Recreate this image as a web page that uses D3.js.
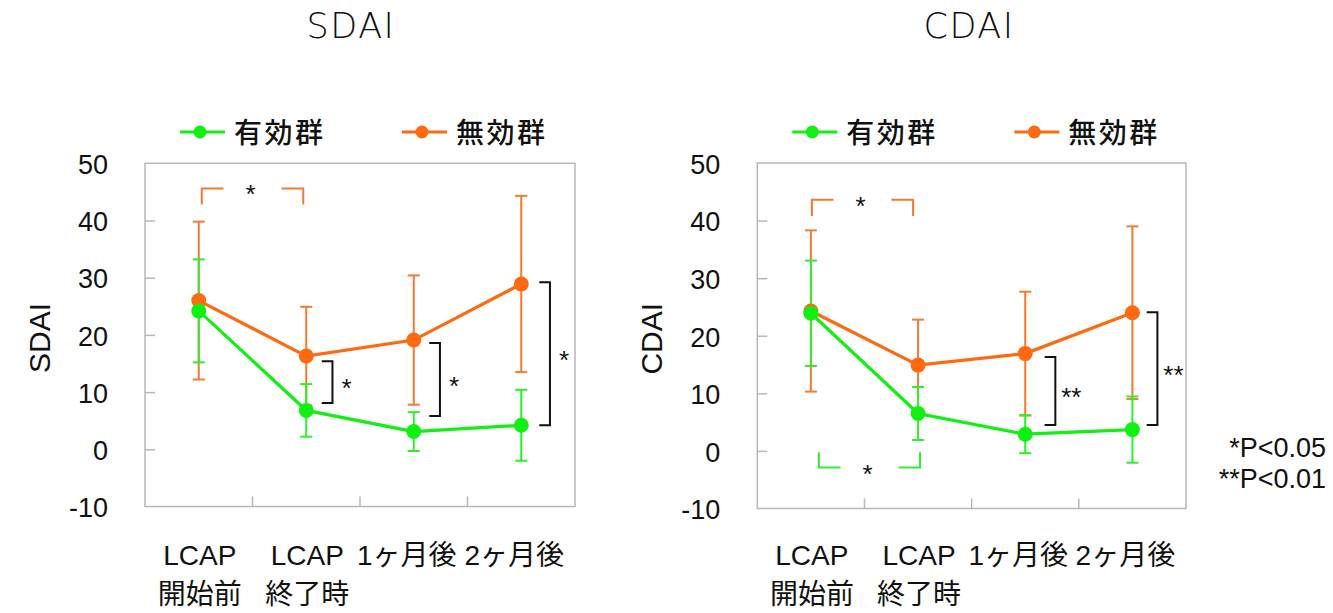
<!DOCTYPE html>
<html>
<head>
<meta charset="utf-8">
<script src="https://cdn.jsdelivr.net/npm/d3@7/dist/d3.min.js"></script>
<style>
    body { margin: 0; background: #fff; }
    svg { display: block; }
</style>
</head>
<body>
<svg id="chart" width="1333" height="613"></svg>
<script>
// data
var categories = [["LCAP", "開始前"], ["LCAP", "終了時"], ["1ヶ月後"], ["2ヶ月後"]];
var yTicks = [-10, 0, 10, 20, 30, 40, 50];
var groupNames = ["有効群", "無効群"];

var sdaiEffective = [24.2, 6.8, 3.1, 4.2];
var sdaiEffectiveSd = [9.0, 4.6, 3.4, 6.2];
var sdaiIneffective = [26.0, 16.3, 19.1, 28.9];
var sdaiIneffectiveSd = [13.8, 8.6, 11.3, 15.4];

var cdaiEffective = [23.9, 6.5, 2.9, 3.7];
var cdaiEffectiveSd = [9.15, 4.6, 3.3, 5.75];
var cdaiIneffective = [24.3, 14.9, 16.9, 24.0];
var cdaiIneffectiveSd = [14.0, 7.9, 10.75, 15.0];

// significance between groups: category index, upper and lower value of the bracket
var sdaiPairs = [{at: 1, hi: 15.4, lo: 8.1, label: "*"}, {at: 2, hi: 18.6, lo: 5.8, label: "*"}, {at: 3, hi: 29.2, lo: 4.2, label: "*"}];
var cdaiPairs = [{at: 2, hi: 16.3, lo: 4.5, label: "**"}, {at: 3, hi: 24.1, lo: 4.5, label: "**"}];

// significance within a group: from/to category, bracket level and end value
var sdaiWithin = [{group: 1, from: 0, to: 1, level: 45.6, end: 42.8, label: "*"}];
var cdaiWithin = [{group: 1, from: 0, to: 1, level: 43.6, end: 40.8, label: "*"},
                  {group: 0, from: 0, to: 1, level: -2.9, end: -0.25, label: "*"}];

var colors = ["#11f011", "#ff6a10"];
var barColors = ["#2cf02c", "#f47a30"];

var svg = d3.select("#chart");
var arial = "'Liberation Sans', Arial, 'Noto Sans CJK JP', sans-serif";
var cjk = "'Noto Sans CJK JP', sans-serif";

function drawPanel(p) {
    var x = d3.scaleBand().domain(d3.range(categories.length)).range([p.left, p.right]);
    var y = d3.scaleLinear().domain([-10, 50]).range([p.bottom, p.top]);
    var cx = function (i) { return x(i) + x.bandwidth() / 2; };
    var g = svg.append("g");

    // title
    g.append("text")
        .attr("x", p.titleX)
        .attr("y", 38)
        .attr("text-anchor", "middle")
        .attr("font-family", "'DejaVu Sans', sans-serif")
        .attr("font-weight", 200)
        .attr("font-size", 35)
        .attr("letter-spacing", 1.5)
        .attr("fill", "#111")
        .text(p.title);

    // plot frame
    g.append("rect")
        .attr("x", p.left).attr("y", p.top)
        .attr("width", p.right - p.left).attr("height", p.bottom - p.top)
        .attr("fill", "none").attr("stroke", "#b8b8b8").attr("stroke-width", 1.5);

    // inner y ticks
    var inner = g.append("g").attr("transform", "translate(" + p.left + ",0)")
        .call(d3.axisRight(y).tickValues(yTicks.slice(1, -1)).tickSize(10).tickFormat(""));
    inner.select(".domain").remove();
    inner.selectAll("line").attr("stroke", "#b8b8b8").attr("stroke-width", 1.5);

    // y labels
    var ya = g.append("g").attr("transform", "translate(" + p.left + ",0)")
        .call(d3.axisLeft(y).tickValues(yTicks).tickSize(0).tickPadding(37)
            .tickFormat(function (d) { return String(d); }));
    ya.select(".domain").remove();
    ya.selectAll("text")
        .attr("font-family", arial).attr("font-size", 27).attr("fill", "#111")
        .attr("dy", "0.38em");

    // x ticks at band edges
    g.selectAll("line.xt").data(d3.range(1, categories.length)).enter().append("line")
        .attr("x1", function (d) { return x(d); }).attr("x2", function (d) { return x(d); })
        .attr("y1", p.bottom).attr("y2", p.bottom - 10)
        .attr("stroke", "#b8b8b8").attr("stroke-width", 1.5);

    // x labels
    categories.forEach(function (lines, i) {
        var t = g.append("text")
            .attr("text-anchor", "middle")
            .attr("font-family", arial).attr("font-size", 28).attr("fill", "#111");
        lines.forEach(function (s, k) {
            t.append("tspan")
                .attr("x", cx(i) + (lines.length === 1 ? -7 : 1))
                .attr("y", 565 + k * 39)
                .text(s);
        });
    });

    // axis title
    g.append("text")
        .attr("transform", "translate(" + (p.left - 106) + "," + ((p.top + p.bottom) / 2 + 3) + ") rotate(-90)")
        .attr("text-anchor", "middle").attr("dy", "0.36em")
        .attr("font-family", arial).attr("font-size", 30).attr("fill", "#111")
        .text(p.title);

    // legend
    var lx = [p.left + 35, p.left + 257];
    groupNames.forEach(function (name, k) {
        var lg = g.append("g").attr("transform", "translate(" + lx[k] + ",132)");
        lg.append("line").attr("x1", 0).attr("x2", 45)
            .attr("stroke", colors[k]).attr("stroke-width", 3);
        lg.append("circle").attr("cx", 20).attr("r", 6.5).attr("fill", colors[k]);
        lg.append("text").attr("x", 54).attr("y", 11)
            .attr("font-family", cjk).attr("font-size", 28).attr("font-weight", 500)
            .attr("letter-spacing", 2.5)
            .attr("fill", "#111").text(name);
    });

    var series = [
        {k: 1, values: p.ineffective, sd: p.ineffectiveSd},
        {k: 0, values: p.effective, sd: p.effectiveSd}
    ];

    // error bars
    series.forEach(function (s) {
        var eb = g.append("g").attr("stroke", barColors[s.k]).attr("stroke-width", 2);
        s.values.forEach(function (v, i) {
            var hi = y(v + s.sd[i]), lo = y(v - s.sd[i]);
            eb.append("line").attr("x1", cx(i)).attr("x2", cx(i)).attr("y1", hi).attr("y2", lo);
            eb.append("line").attr("x1", cx(i) - 6).attr("x2", cx(i) + 6).attr("y1", hi).attr("y2", hi);
            eb.append("line").attr("x1", cx(i) - 6).attr("x2", cx(i) + 6).attr("y1", lo).attr("y2", lo);
        });
    });

    // lines and markers
    var line = d3.line()
        .x(function (d, i) { return cx(i); })
        .y(function (d) { return y(d); });
    series.forEach(function (s) {
        g.append("path").attr("d", line(s.values))
            .attr("fill", "none").attr("stroke", colors[s.k]).attr("stroke-width", 3.2);
        g.selectAll(null).data(s.values).enter().append("circle")
            .attr("cx", function (d, i) { return cx(i); })
            .attr("cy", function (d) { return y(d); })
            .attr("r", 7.5).attr("fill", colors[s.k]);
    });

    // between-group brackets
    p.pairs.forEach(function (b, j) {
        var x0 = cx(b.at) + p.pairOffsets[j], x1 = x0 + 10.7;
        g.append("path")
            .attr("d", "M" + x0 + "," + y(b.hi) + "H" + x1 + "V" + y(b.lo) + "H" + x0)
            .attr("fill", "none").attr("stroke", "#111").attr("stroke-width", 2);
        g.append("text")
            .attr("x", x1 + (b.label.length > 1 ? 16 : 14))
            .attr("y", y((b.hi + b.lo) / 2) + 15)
            .attr("text-anchor", "middle")
            .attr("font-family", arial).attr("font-size", 26)
            .attr("fill", "#111").text(b.label);
    });

    // within-group dashed brackets
    p.within.forEach(function (b, j) {
        var x0 = cx(b.from) + p.withinInsets[j][0], x1 = cx(b.to) + p.withinInsets[j][1];
        var mid = (x0 + x1) / 2, ly = y(b.level), ey = y(b.end);
        g.append("path")
            .attr("d", "M" + x0 + "," + ey + "V" + ly + "H" + (mid - 29) +
                "M" + (mid + 29) + "," + ly + "H" + x1 + "V" + ey)
            .attr("fill", "none").attr("stroke", barColors[b.group]).attr("stroke-width", 2);
        g.append("text")
            .attr("x", mid - 2).attr("y", ly + 15)
            .attr("text-anchor", "middle")
            .attr("font-family", arial).attr("font-size", 26)
            .attr("fill", "#111").text(b.label);
    });
}

drawPanel({
    title: "SDAI", titleX: 351, left: 145, right: 575, top: 163.3, bottom: 506.5,
    effective: sdaiEffective, effectiveSd: sdaiEffectiveSd,
    ineffective: sdaiIneffective, ineffectiveSd: sdaiIneffectiveSd,
    pairs: sdaiPairs, pairOffsets: [15.5, 15.5, 18],
    within: sdaiWithin, withinInsets: [[3, -3]]
});

drawPanel({
    title: "CDAI", titleX: 969, left: 757.3, right: 1186, top: 163, bottom: 508.5,
    effective: cdaiEffective, effectiveSd: cdaiEffectiveSd,
    ineffective: cdaiIneffective, ineffectiveSd: cdaiIneffectiveSd,
    pairs: cdaiPairs, pairOffsets: [19.4, 14.3],
    within: cdaiWithin, withinInsets: [[1, -5], [8, 2]]
});

// p-value note
var note = svg.append("text")
    .attr("text-anchor", "end")
    .attr("font-family", arial).attr("font-size", 27)
    .attr("fill", "#111");
note.append("tspan").attr("x", 1326).attr("y", 457).text("*P<0.05");
note.append("tspan").attr("x", 1326).attr("y", 488).text("**P<0.01");
</script>
</body>
</html>
